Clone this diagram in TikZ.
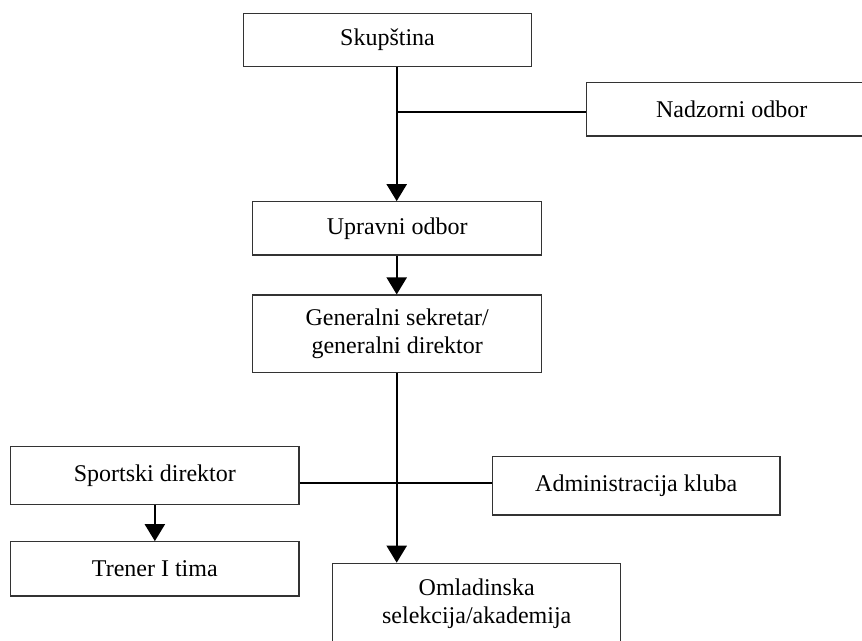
\documentclass[tikz,border=0pt]{standalone}
\usepackage{fontspec}
\setmainfont{Liberation Serif}
\usetikzlibrary{arrows.meta}
\begin{document}
\begin{tikzpicture}[x=0.5pt,y=-0.5pt,
  box/.style={draw=black!80,line width=0.55pt,rectangle,inner sep=0pt,align=center,
    font=\fontsize{12}{14}\selectfont},
  conn/.style={line width=1.1pt,black},
  arr/.style={conn,-{Triangle[width=10pt,length=8.5pt]}}]
\useasboundingbox (0,0) rectangle (862,641);
\clip (0,0) rectangle (862,641);
\fill[white] (0,0) rectangle (862,641);
\node[box,minimum width=144.2pt,minimum height=26.7pt] (skup) at (387.5,40) {Skupština};
\node[box,minimum width=145pt,minimum height=26.65pt] (nadz) at (731.7,109.35) {Nadzorni odbor};
\node[box,minimum width=144.5pt,minimum height=26.65pt] (uprav) at (397.2,228.35) {Upravni odbor};
\node[box,minimum width=144.5pt,minimum height=38.85pt] (gen) at (397.2,333.85) {Generalni sekretar/\\generalni direktor};
\node[box,minimum width=144.15pt,minimum height=28.8pt] (sport) at (154.85,475.5) {Sportski direktor};
\node[box,minimum width=143.85pt,minimum height=29.15pt] (admin) at (636.15,485.85) {Administracija kluba};
\node[box,minimum width=144.15pt,minimum height=27.15pt] (trener) at (154.85,568.85) {Trener I tima};
\node[box,minimum width=144pt,minimum height=40pt,anchor=north] (omlad) at (476.7,562.7) {Omladinska\\selekcija/akademija};
\coordinate (spine) at (396.7,0);
\coordinate (hn) at (0,111.7);
\coordinate (hs) at (0,483.3);
\draw[arr] (spine |- skup.south) -- (spine |- uprav.north);
\draw[conn] (spine |- hn) -- (hn -| nadz.west);
\draw[arr] (spine |- uprav.south) -- (spine |- gen.north);
\draw[arr] (spine |- gen.south) -- (spine |- omlad.north);
\draw[conn] (hs -| sport.east) -- (hs -| admin.west);
\draw[arr] (sport.south) -- (trener.north);
\end{tikzpicture}
\end{document}
